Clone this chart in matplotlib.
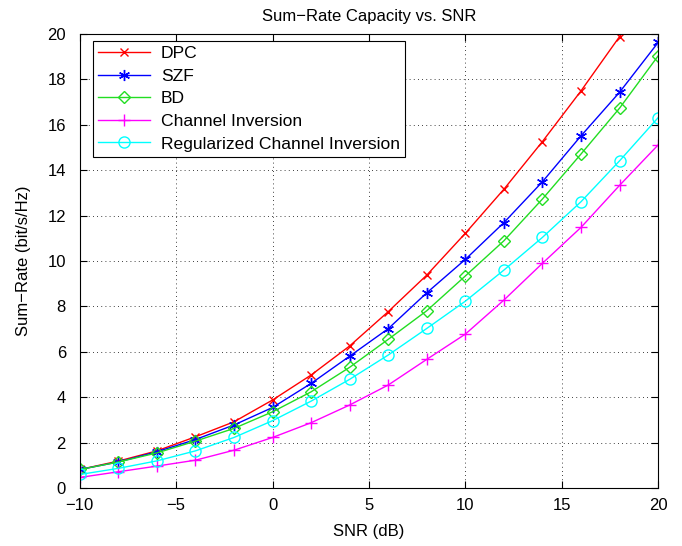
import matplotlib
matplotlib.use("Agg")
import matplotlib.pyplot as plt

snr = [-10, -8, -6, -4, -2, 0, 2, 4, 6, 8, 10, 12, 14, 16, 18, 20]
dpc = [0.82, 1.19, 1.64, 2.26, 2.92, 3.88, 4.98, 6.26, 7.77, 9.38, 11.22, 13.16, 15.26, 17.49, 19.88, 22.3]
szf = [0.82, 1.15, 1.60, 2.14, 2.78, 3.55, 4.61, 5.81, 7.02, 8.60, 10.07, 11.69, 13.49, 15.51, 17.43, 19.62]
bd = [0.82, 1.15, 1.55, 2.07, 2.63, 3.36, 4.24, 5.32, 6.55, 7.81, 9.34, 10.89, 12.73, 14.71, 16.73, 19.03]
ci = [0.47, 0.72, 0.97, 1.23, 1.67, 2.23, 2.88, 3.66, 4.54, 5.67, 6.78, 8.28, 9.90, 11.48, 13.33, 15.11]
rci = [0.60, 0.87, 1.20, 1.64, 2.23, 2.97, 3.83, 4.79, 5.86, 7.03, 8.23, 9.60, 11.04, 12.61, 14.41, 16.31]

labels = ["DPC", "SZF", "BD", "Channel Inversion", "Regularized Channel Inversion"]
xticks = [-10, -5, 0, 5, 10, 15, 20]
yticks = [0, 2, 4, 6, 8, 10, 12, 14, 16, 18, 20]

plt.rcParams['font.family'] = ['Liberation Sans', 'DejaVu Sans']
plt.rcParams['font.size'] = 12

fig = plt.figure(figsize=(6.82, 5.46), dpi=100)
ax = fig.add_axes([0.117, 0.106, 0.848, 0.832])

ax.plot(snr, dpc, color='red', marker='x', ms=6, mew=1, lw=1, label=labels[0])
ax.plot(snr, szf, color='blue', marker=(6, 2, 0), ms=8, mew=1, lw=1, label=labels[1])
ax.plot(snr, bd, color='#22dd22', marker='D', ms=6, mew=1, mfc='none', lw=1, label=labels[2])
ax.plot(snr, ci, color='magenta', marker='+', ms=9, mew=1, lw=1, label=labels[3])
ax.plot(snr, rci, color='cyan', marker='o', ms=8, mew=1, mfc='none', lw=1, label=labels[4])

ax.set_xlim(-10, 20)
ax.set_ylim(0, 20)
ax.set_xticks(xticks)
ax.set_yticks(yticks)
ax.set_xticklabels([str(t).replace('-', '\u2212') for t in xticks])
ax.grid(True, color='black', linestyle=(0, (1, 4)), linewidth=0.6)
ax.tick_params(direction='in', top=True, right=True, length=5, width=0.8, labelsize=12)
ax.tick_params(axis='y', pad=10)
ax.tick_params(axis='x', pad=7)
for s in ax.spines.values():
    s.set_linewidth(0.8)

ax.set_xlabel("SNR (dB)", labelpad=8)
ax.set_ylabel("Sum\u2212Rate (bit/s/Hz)", labelpad=12)
ax.set_title("Sum\u2212Rate Capacity vs. SNR", fontsize=12, pad=9)

leg = ax.legend(loc='upper left', bbox_to_anchor=(0.022, 0.985), fancybox=False,
                edgecolor='black', framealpha=1,
                handlelength=3, handletextpad=0.6, borderaxespad=0.0,
                labelspacing=0.42, fontsize=12.6, borderpad=0.3)
leg.get_frame().set_linewidth(0.8)

fig.savefig("out.png", dpi=100)
